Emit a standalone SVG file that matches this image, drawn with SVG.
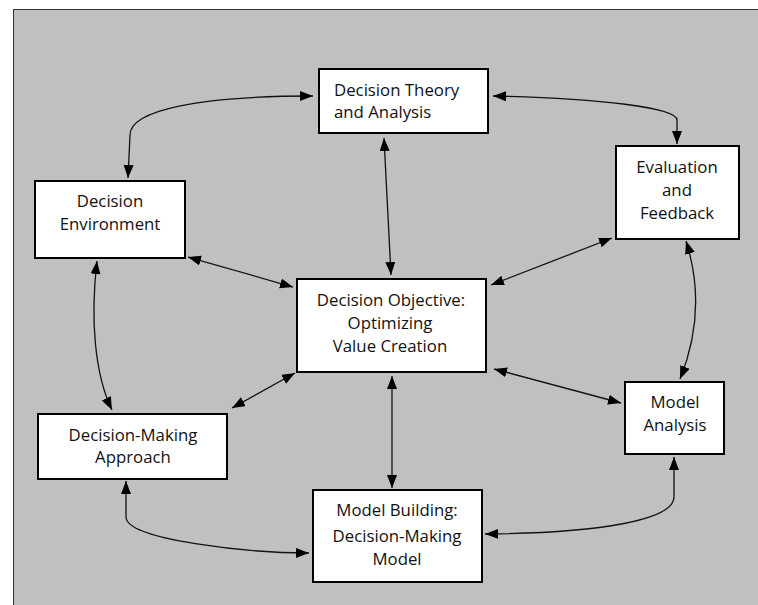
<svg xmlns="http://www.w3.org/2000/svg" width="758" height="605" viewBox="0 0 758 605">
<style>
.box{fill:#fff;stroke:#000;stroke-width:2}
.t{font-family:"Open Sans","Liberation Sans",sans-serif;font-size:16.8px;fill:#111}
.c{text-anchor:middle}
.e{fill:none;stroke:#111;stroke-width:1.3;marker-start:url(#ah);marker-end:url(#ah)}
</style>
<defs>
<marker id="ah" markerUnits="userSpaceOnUse" markerWidth="14" markerHeight="11" refX="13" refY="5" orient="auto-start-reverse">
<path d="M0,0 L13,5 L0,10 z" fill="#000"/>
</marker>
</defs>
<rect x="0" y="0" width="758" height="605" fill="#fff"/>
<rect x="13.5" y="9.5" width="800" height="700" fill="#c0c0c0" stroke="#333" stroke-width="1"/>
<g id="connectors">
<path class="e" d="M313,96 C200,96 130,110 130,135 L128,178"/>
<path class="e" d="M493,96 C600,98 677,108 677,120 L677,144"/>
<path class="e" d="M384,138 L391,275"/>
<path class="e" d="M188,257 L293,287"/>
<path class="e" d="M491,285 L612,238"/>
<path class="e" d="M686,241 Q708,310 680,379"/>
<path class="e" d="M494,369 L621,403"/>
<path class="e" d="M392,376 L392,488"/>
<path class="e" d="M295,373 L232,408"/>
<path class="e" d="M97,261 C90,320 95,375 112,410"/>
<path class="e" d="M126,481 L126,517 C126,540 250,553 309,553"/>
<path class="e" d="M485,534 C600,533 674,520 674,497 L674,457"/>
</g>
<g id="theory">
<rect class="box" x="319" y="69" width="169" height="64"/>
<text class="t" x="334" y="96">Decision Theory</text>
<text class="t" x="334" y="118">and Analysis</text>
</g>
<g id="evaluation">
<rect class="box" x="616" y="146" width="123" height="93"/>
<text class="t c" x="677" y="173">Evaluation</text>
<text class="t c" x="677" y="196">and</text>
<text class="t c" x="677" y="219">Feedback</text>
</g>
<g id="environment">
<rect class="box" x="35" y="181" width="150" height="77"/>
<text class="t c" x="110" y="207">Decision</text>
<text class="t c" x="110" y="230">Environment</text>
</g>
<g id="objective">
<rect class="box" x="297" y="279" width="189" height="93"/>
<text class="t c" x="391" y="306">Decision Objective:</text>
<text class="t c" x="390" y="329">Optimizing</text>
<text class="t c" x="390" y="352">Value Creation</text>
</g>
<g id="approach">
<rect class="box" x="38" y="414" width="189" height="65"/>
<text class="t c" x="133" y="441">Decision-Making</text>
<text class="t c" x="133" y="463">Approach</text>
</g>
<g id="building">
<rect class="box" x="313" y="490" width="169" height="92"/>
<text class="t c" x="397" y="516">Model Building:</text>
<text class="t c" x="397" y="542">Decision-Making</text>
<text class="t c" x="397" y="565">Model</text>
</g>
<g id="analysis">
<rect class="box" x="625" y="382" width="99" height="72"/>
<text class="t c" x="675" y="408">Model</text>
<text class="t c" x="675" y="431">Analysis</text>
</g>
</svg>
